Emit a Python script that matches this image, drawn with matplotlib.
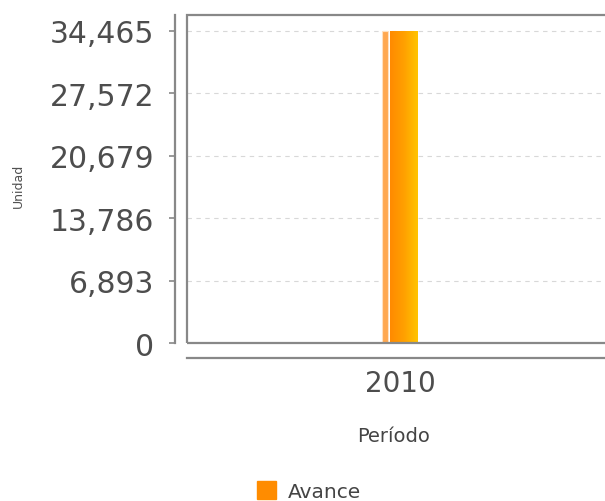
import matplotlib
matplotlib.use('Agg')
import matplotlib.pyplot as plt
import numpy as np
from matplotlib.patches import Rectangle, Patch
from matplotlib.colors import LinearSegmentedColormap

# datos
periodos = ['2010']
avance = [34465]
ticks_y = [0, 6893, 13786, 20679, 27572, 34465]
serie = 'Avance'

plt.rcParams['font.family'] = ['DejaVu Sans']

fig = plt.figure(figsize=(6.05, 5.02), dpi=100)
W, H = 605, 502
# el area del grafico se sale un poco por la derecha
ax = fig.add_axes([187 / W, (H - 344) / H, 426 / W, 328 / H])

x = np.arange(len(periodos))
ancho = 0.065
barras = ax.bar(x + 0.008, avance, width=ancho, color='#ff8c00', zorder=3)

# degradado naranja -> amarillo dentro de la barra
cmap = LinearSegmentedColormap.from_list('nar', ['#ff8a00', '#ffa000', '#ffc400'])
grad = np.linspace(0, 1, 256).reshape(1, -1)
for b in barras:
    bx, by = b.get_x(), b.get_y()
    im = ax.imshow(grad, cmap=cmap, aspect='auto', zorder=4,
                   extent=[bx, bx + b.get_width(), by, by + b.get_height()])
    im.set_clip_path(b)
    # franja clara a la izquierda
    ax.bar(bx - 0.018, b.get_height(), width=0.014, align='edge',
           color='#ffa850', edgecolor='#ffe0c0', linewidth=0.8, zorder=3)

ax.set_xlim(-0.5, 0.5)
ax.set_ylim(0, max(avance) * 1.05)
ax.set_yticks(ticks_y)
ax.set_yticklabels(['{:,}'.format(t) for t in ticks_y])
ax.set_xticks(x)
ax.set_xticklabels(periodos)

ax.yaxis.grid(True, color='#d8d8d8', linestyle=(0, (4, 4)), linewidth=0.8)
ax.set_axisbelow(True)

for s in ['top', 'right']:
    ax.spines[s].set_visible(False)
ax.spines['left'].set_position(('outward', 9))
ax.spines['bottom'].set_position(('outward', 11))
for s in ['left', 'bottom']:
    ax.spines[s].set_color('#888888')
    ax.spines[s].set_linewidth(1.6)

# borde del area del grafico
ax.add_patch(Rectangle((0, 0), 1, 1, transform=ax.transAxes, fill=False,
                       edgecolor='#888888', linewidth=1.6, zorder=5, clip_on=False))

ax.tick_params(axis='y', length=4.5, width=1.2, color='#888888',
               labelsize=21.5, labelcolor='#4d4d4d', pad=10)
ax.tick_params(axis='x', length=0, labelsize=20, labelcolor='#4d4d4d', pad=8)

fig.text(18 / W, 1 - 186 / H, 'Unidad', rotation=90, ha='center', va='center',
         fontsize=9, color='#505050')
fig.text(394 / W, 1 - 437 / H, 'Período', ha='center', va='center',
         fontsize=14, color='#444444')

fig.legend(handles=[Patch(color='#ff8c00', label=serie)], loc='center',
           bbox_to_anchor=(309 / W, 1 - 492 / H), frameon=False, fontsize=14.5,
           handlelength=0.95, handleheight=0.95, handletextpad=0.6,
           labelcolor='#444444')

fig.savefig('out.png', dpi=100)
